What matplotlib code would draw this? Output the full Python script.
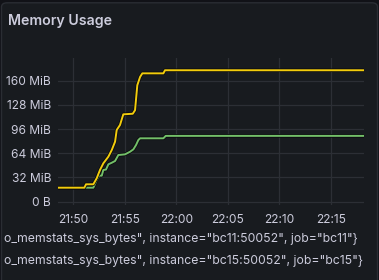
import matplotlib
matplotlib.use("Agg")
import matplotlib.pyplot as plt
from matplotlib.patches import FancyBboxPatch
import matplotlib.patheffects as pe
import pandas as pd

# ── Data (minutes after 21:50, MiB) ──────────────────────────────────────────
base_time = pd.Timestamp("2024-01-01 21:50:00")

bc11_minutes = [-1.5, 1.94, 2.27, 2.52, 2.76, 2.91, 3.17, 3.40, 3.73, 4.05,
                4.37, 5.02, 5.50, 5.83, 6.09, 6.31, 6.48, 8.74, 8.97, 28.2]
bc11_mib = [18.5, 18.5, 28.7, 34.4, 34.4, 41.9, 42.5, 49.4, 51.5, 53.8,
            61.7, 62.6, 66.0, 69.2, 75.0, 81.5, 83.8, 83.8, 87.0, 87.0]

bc15_minutes = [-1.5, 1.07, 1.23, 1.94, 2.27, 2.59, 2.91, 3.40, 3.73, 4.05,
                4.21, 4.53, 4.85, 5.77, 5.99, 6.21, 6.48, 6.70, 8.74, 8.90, 28.2]
bc15_mib = [18.5, 18.5, 23.0, 23.0, 31.0, 42.0, 50.7, 59.5, 68.3, 79.3,
            94.8, 101.4, 115.5, 116.3, 121.0, 154.0, 165.0, 169.7, 169.7, 173.8, 173.8]

legend_labels = [
    'o_memstats_sys_bytes", instance="bc11:50052", job="bc11"}',
    'o_memstats_sys_bytes", instance="bc15:50052", job="bc15"}',
]
y_ticks_mib = [0, 32, 64, 96, 128, 160]
x_tick_labels = ["21:50", "21:55", "22:00", "22:05", "22:10", "22:15"]

# ── Style ────────────────────────────────────────────────────────────────────
BG = "#181b1f"
OUTER = "#111217"
TEXT = "#ccccdc"
GRID = "#2c2f35"
GREEN = "#73bf69"
YELLOW = "#f2cc0c"

plt.rcParams["font.family"] = ["Inter", "DejaVu Sans"]

fig = plt.figure(figsize=(3.79, 2.80), dpi=100)
fig.patch.set_facecolor(OUTER)
panel = FancyBboxPatch((0.004, -0.02), 0.992, 1.01,
                       boxstyle="round,pad=0,rounding_size=0.015",
                       transform=fig.transFigure, facecolor=BG,
                       edgecolor="#2a2d33", linewidth=1.0, zorder=-5)
fig.patches.append(panel)

ax = fig.add_axes([58 / 379, 1 - 205 / 280, (364 - 58) / 379, (205 - 58.3) / 280])
ax.set_zorder(2)
ax.set_facecolor(BG)


def to_times(minutes):
    return [base_time + pd.Timedelta(minutes=m) for m in minutes]


outline = [pe.Stroke(linewidth=2.6, foreground="#0b0c0e"), pe.Normal()]
ax.plot(to_times(bc11_minutes), bc11_mib, color=GREEN, lw=1.4,
        path_effects=outline, zorder=3)
ax.plot(to_times(bc15_minutes), bc15_mib, color=YELLOW, lw=1.4,
        path_effects=outline, zorder=4)

ax.set_xlim(base_time + pd.Timedelta(minutes=-1.49),
            base_time + pd.Timedelta(minutes=28.22))
ax.set_ylim(-4.4, 189.6)

x_ticks = [base_time + pd.Timedelta(minutes=5 * i) for i in range(len(x_tick_labels))]
ax.set_xticks(x_ticks)
ax.set_xticklabels(x_tick_labels)
ax.set_yticks(y_ticks_mib)
ax.set_yticklabels(["0 B" if v == 0 else f"{v} MiB" for v in y_ticks_mib])

ax.tick_params(length=0, colors=TEXT, labelsize=8.6)
ax.tick_params(axis="y", pad=5)
ax.tick_params(axis="x", pad=6.5)
for spine in ax.spines.values():
    spine.set_visible(False)
ax.grid(True, color=GRID, linewidth=0.9)
ax.set_axisbelow(True)

fig.text(8 / 379, 1 - 21 / 280, "Memory Usage", color=TEXT, fontsize=10.2,
         fontweight="semibold", va="center", ha="left")
for i, label in enumerate(legend_labels):
    fig.text(4 / 379, 1 - (239 + 22 * i) / 280, label, color=TEXT,
             fontsize=8.8, va="center", ha="left")

fig.savefig("out.png", dpi=100, facecolor=fig.get_facecolor())
